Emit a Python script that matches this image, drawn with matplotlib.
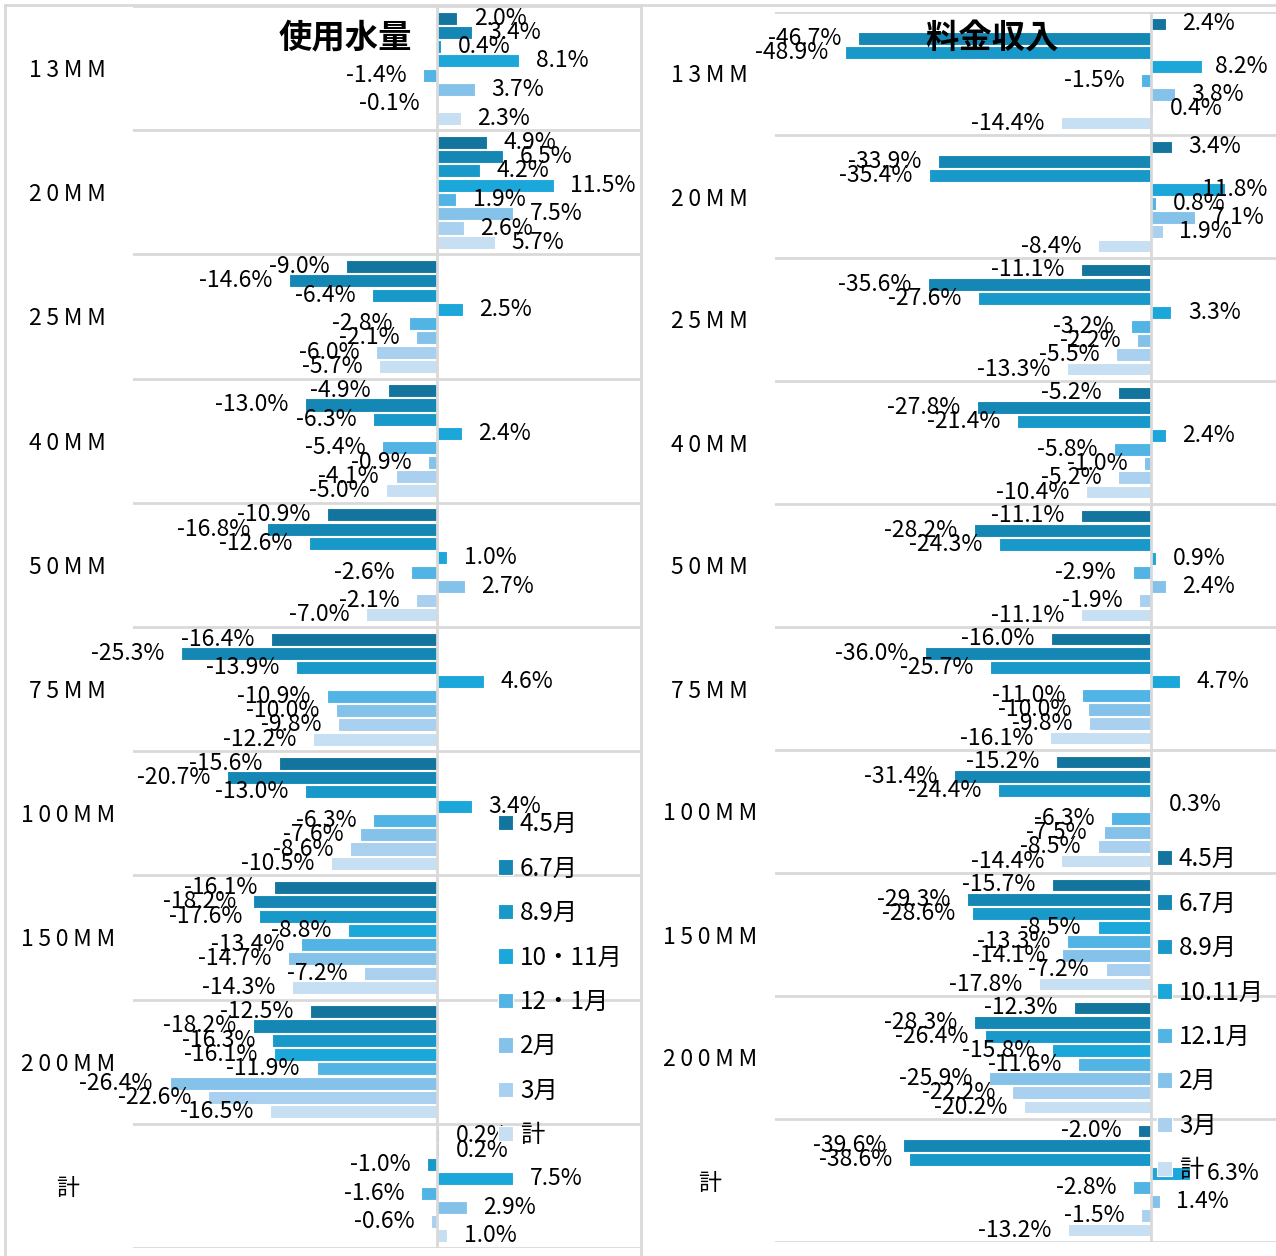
import matplotlib.pyplot as plt
from matplotlib.lines import Line2D

plt.rcParams['font.family'] = ['Noto Sans CJK JP', 'DejaVu Sans']

categories = ['13MM', '20MM', '25MM', '40MM', '50MM', '75MM', '100MM', '150MM', '200MM', '計']
series_l = ['4.5月', '6.7月', '8.9月', '10・11月', '12・1月', '2月', '3月', '計']
series_r = ['4.5月', '6.7月', '8.9月', '10.11月', '12.1月', '2月', '3月', '計']
colours = ['#13759e', '#1587b5', '#1899c9', '#1ca7db', '#51b4e5', '#85c2ea', '#a9d0ef', '#c6dff2']

# 使用水量 (rows = categories, cols = series)
water = [
    [2.0, 3.4, 0.4, 8.1, -1.4, 3.7, -0.1, 2.3],
    [4.9, 6.5, 4.2, 11.5, 1.9, 7.5, 2.6, 5.7],
    [-9.0, -14.6, -6.4, 2.5, -2.8, -2.1, -6.0, -5.7],
    [-4.9, -13.0, -6.3, 2.4, -5.4, -0.9, -4.1, -5.0],
    [-10.9, -16.8, -12.6, 1.0, -2.6, 2.7, -2.1, -7.0],
    [-16.4, -25.3, -13.9, 4.6, -10.9, -10.0, -9.8, -12.2],
    [-15.6, -20.7, -13.0, 3.4, -6.3, -7.6, -8.6, -10.5],
    [-16.1, -18.2, -17.6, -8.8, -13.4, -14.7, -7.2, -14.3],
    [-12.5, -18.2, -16.3, -16.1, -11.9, -26.4, -22.6, -16.5],
    [0.2, 0.2, -1.0, 7.5, -1.6, 2.9, -0.6, 1.0],
]
# 料金収入
revenue = [
    [2.4, -46.7, -48.9, 8.2, -1.5, 3.8, 0.4, -14.4],
    [3.4, -33.9, -35.4, 11.8, 0.8, 7.1, 1.9, -8.4],
    [-11.1, -35.6, -27.6, 3.3, -3.2, -2.2, -5.5, -13.3],
    [-5.2, -27.8, -21.4, 2.4, -5.8, -1.0, -5.2, -10.4],
    [-11.1, -28.2, -24.3, 0.9, -2.9, 2.4, -1.9, -11.1],
    [-16.0, -36.0, -25.7, 4.7, -11.0, -10.0, -9.8, -16.1],
    [-15.2, -31.4, -24.4, 0.3, -6.3, -7.5, -8.5, -14.4],
    [-15.7, -29.3, -28.6, -8.5, -13.3, -14.1, -7.2, -17.8],
    [-12.3, -28.3, -26.4, -15.8, -11.6, -25.9, -22.2, -20.2],
    [-2.0, -39.6, -38.6, 6.3, -2.8, 1.4, -1.5, -13.2],
]

W, H = 1276, 1256
fig = plt.figure(figsize=(W / 100, H / 100), dpi=100)

def spaced(s):
    return '\u2009'.join(s)

def panel(rect, data, names, xlim, title, title_x, leg_anchor, lab_pad):
    ax = fig.add_axes(rect)
    slot = 0.115
    px_per_unit = rect[2] * W / (xlim[1] - xlim[0])
    for j in range(8):
        ys = [c + (j - 3.5) * slot for c in range(len(categories))]
        vals = [row[j] for row in data]
        ax.barh(ys, vals, height=0.105, color=colours[j], edgecolor='white',
                linewidth=0.8, label=names[j], zorder=2)
        for y, v in zip(ys, vals):
            txt = '%.1f%%' % v
            if v >= 0 and v + (16 + 62) / px_per_unit > xlim[1]:
                # too close to the edge: pull it back inside
                ax.annotate(txt, (xlim[1], y), xytext=(-6, 0), textcoords='offset points',
                            ha='right', va='center', fontsize=16.5, zorder=4)
                continue
            ax.annotate(txt, (v, y), xytext=(12 if v >= 0 else -12, 0),
                        textcoords='offset points', ha='left' if v >= 0 else 'right',
                        va='center', fontsize=16.5, zorder=4)
    ax.set_xlim(*xlim)
    ax.set_ylim(len(categories) - 0.5, -0.5)
    ax.axvline(0, color='#d9d9d9', lw=2, zorder=3)
    for k in range(len(categories) + 1):
        ax.axhline(k - 0.5, color='#d9d9d9', lw=2, zorder=1)
    ax.set_xticks([])
    ax.set_yticks(range(len(categories)))
    ax.set_yticklabels([spaced(c) for c in categories], fontsize=16.5)
    for t in ax.get_yticklabels():
        t.set_horizontalalignment('center')
    ax.tick_params(axis='y', length=0, pad=lab_pad)
    for s in ax.spines.values():
        s.set_visible(False)
    fig.text(title_x, 1 - 38 / H, title, fontsize=24, fontweight='bold',
             ha='center', va='center', zorder=5)
    ax.legend(loc='upper left', bbox_to_anchor=leg_anchor, bbox_transform=fig.transFigure,
              frameon=False, fontsize=17.5, handlelength=0.6, handleheight=0.6,
              handletextpad=0.3, labelspacing=0.76, borderpad=0, borderaxespad=0)
    return ax

panel([133 / W, 1 - 1248 / H, 507 / W, 1242 / H], water, series_l, (-30, 20),
      '使用水量', 345 / W, (498 / W, 1 - 811 / H), 47)
panel([775 / W, 1 - 1242 / H, 501 / W, 1230 / H], revenue, series_r, (-60, 20),
      '料金収入', 992 / W, (1157 / W, 1 - 846 / H), 47)

# frame lines
fig.add_artist(Line2D([5 / W, 1], [1 - 5 / H, 1 - 5 / H], color='#d9d9d9', lw=2))
fig.add_artist(Line2D([5 / W, 5 / W], [0, 1 - 5 / H], color='#d9d9d9', lw=2))
fig.add_artist(Line2D([641 / W, 641 / W], [0, 1 - 5 / H], color='#d9d9d9', lw=2))

fig.savefig('out.png', dpi=100)
